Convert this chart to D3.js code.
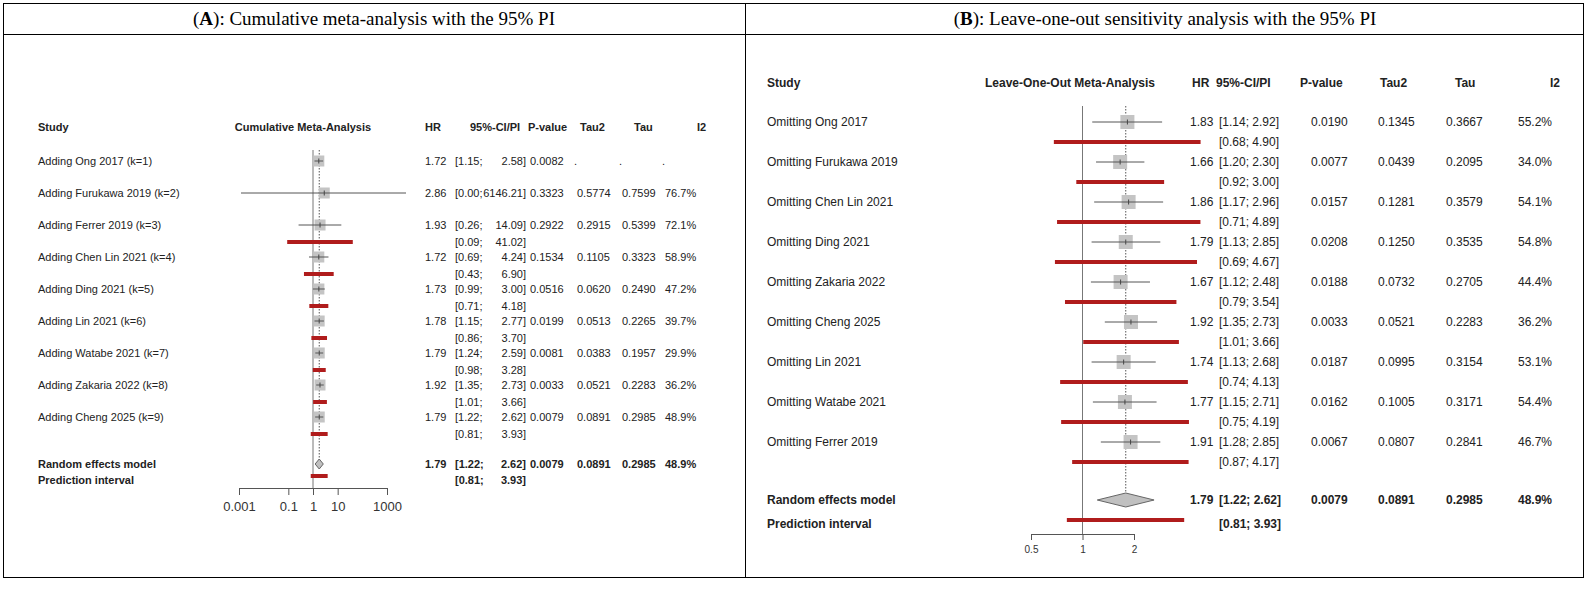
<!DOCTYPE html>
<html><head><meta charset="utf-8">
<script src="https://cdn.jsdelivr.net/npm/d3@7"></script>
<style>body{margin:0;background:#fff}text{font-family:"Liberation Sans",Arial,sans-serif}</style>
</head><body><div id="chart"></div>
<script>
// Panel A: cumulative
var studiesA = ["Adding Ong 2017 (k=1)","Adding Furukawa 2019 (k=2)","Adding Ferrer 2019 (k=3)","Adding Chen Lin 2021 (k=4)","Adding Ding 2021 (k=5)","Adding Lin 2021 (k=6)","Adding Watabe 2021 (k=7)","Adding Zakaria 2022 (k=8)","Adding Cheng 2025 (k=9)"];
var hrA = [1.72,2.86,1.93,1.72,1.73,1.78,1.79,1.92,1.79];
var loA = [1.15,0.00,0.26,0.69,0.99,1.15,1.24,1.35,1.22];
var hiA = [2.58,6146.21,14.09,4.24,3.00,2.77,2.59,2.73,2.62];
var piLoA = [null,null,0.09,0.43,0.71,0.86,0.98,1.01,0.81];
var piHiA = [null,null,41.02,6.90,4.18,3.70,3.28,3.66,3.93];
var pA = ["0.0082","0.3323","0.2922","0.1534","0.0516","0.0199","0.0081","0.0033","0.0079"];
var tau2A = [".","0.5774","0.2915","0.1105","0.0620","0.0513","0.0383","0.0521","0.0891"];
var tauA = [".","0.7599","0.5399","0.3323","0.2490","0.2265","0.1957","0.2283","0.2985"];
var i2A = [".","76.7%","72.1%","58.9%","47.2%","39.7%","29.9%","36.2%","48.9%"];
var ticksA = [0.001,0.1,1,10,1000];

// Panel B: leave-one-out
var studiesB = ["Omitting Ong 2017","Omitting Furukawa 2019","Omitting Chen Lin 2021","Omitting Ding 2021","Omitting Zakaria 2022","Omitting Cheng 2025","Omitting Lin 2021","Omitting Watabe 2021","Omitting Ferrer 2019"];
var hrB = [1.83,1.66,1.86,1.79,1.67,1.92,1.74,1.77,1.91];
var loB = [1.14,1.20,1.17,1.13,1.12,1.35,1.13,1.15,1.28];
var hiB = [2.92,2.30,2.96,2.85,2.48,2.73,2.68,2.71,2.85];
var piLoB = [0.68,0.92,0.71,0.69,0.79,1.01,0.74,0.75,0.87];
var piHiB = [4.90,3.00,4.89,4.67,3.54,3.66,4.13,4.19,4.17];
var pB = ["0.0190","0.0077","0.0157","0.0208","0.0188","0.0033","0.0187","0.0162","0.0067"];
var tau2B = ["0.1345","0.0439","0.1281","0.1250","0.0732","0.0521","0.0995","0.1005","0.0807"];
var tauB = ["0.3667","0.2095","0.3579","0.3535","0.2705","0.2283","0.3154","0.3171","0.2841"];
var i2B = ["55.2%","34.0%","54.1%","54.8%","44.4%","36.2%","53.1%","54.4%","46.7%"];
var ticksB = [0.5,1,2];

// pooled random effects model
var pooled = {hr:1.79, lo:1.22, hi:2.62, piLo:0.81, piHi:3.93, p:"0.0079", tau2:"0.0891", tau:"0.2985", i2:"48.9%"};

var W = 1587, H = 593;
var svg = d3.select("#chart").append("svg").attr("width", W).attr("height", H);
var f2 = d3.format(".2f");
var red = "#b01c1c", sq = "#c4c4c4";

// frame
svg.append("rect").attr("x",3.5).attr("y",3.5).attr("width",1580).attr("height",574).attr("fill","none").attr("stroke","#000");
svg.append("line").attr("x1",3).attr("x2",1584).attr("y1",34.5).attr("y2",34.5).attr("stroke","#000");
svg.append("line").attr("x1",745.5).attr("x2",745.5).attr("y1",3).attr("y2",578).attr("stroke","#000");
[["A","): Cumulative meta-analysis with the 95% PI",374],["B","): Leave-one-out sensitivity analysis with the 95% PI",1165]].forEach(function(t){
  var tx = svg.append("text").attr("x",t[2]).attr("y",25).attr("text-anchor","middle")
    .style("font-family","'Liberation Serif',serif").style("font-size","19px");
  tx.append("tspan").text("(");
  tx.append("tspan").style("font-weight","bold").text(t[0]);
  tx.append("tspan").text(t[1]);
});

function panel(o){
  var g = svg.append("g");
  var x = d3.scaleLog().domain(o.dom).range(o.rng);
  var cx = function(v){ return Math.max(o.rng[0]+2, Math.min(o.clipR, x(Math.max(v,1e-9)))); };
  var fs = o.fs + "px";
  function txt(xx, yy, s, anchor, bold){
    return g.append("text").attr("x",xx).attr("y",yy).attr("text-anchor",anchor||"start")
      .style("font-size",fs).style("font-weight",bold?"bold":"normal").attr("fill","#222").text(s);
  }
  function ci(yy, lo, hi, bold){
    if (o.split) {
      txt(o.col.ci, yy, "[" + f2(lo) + ";", "start", bold);
      txt(o.col.ciR, yy, f2(hi) + "]", "end", bold);
    } else {
      txt(o.col.ci, yy, "[" + f2(lo) + "; " + f2(hi) + "]", "start", bold);
    }
  }
  // headers
  var h = o.head;
  txt(o.col.study, h, "Study", "start", true);
  txt(o.col.plot, h, o.title, "middle", true);
  txt(o.col.hrh, h, "HR", "start", true);
  txt(o.col.cih, h, "95%-CI/PI", "start", true);
  txt(o.col.ph, h, "P-value", "start", true);
  txt(o.col.tau2h, h, "Tau2", "start", true);
  txt(o.col.tauh, h, "Tau", "start", true);
  txt(o.col.i2h, h, "I2", "start", true);

  // reference lines
  g.append("line").attr("x1",x(1)).attr("x2",x(1)).attr("y1",o.top).attr("y2",o.axisY).attr("stroke","#777");
  g.append("line").attr("x1",x(pooled.hr)).attr("x2",x(pooled.hr)).attr("y1",o.top).attr("y2",o.poolY).attr("stroke","#555").attr("stroke-dasharray","1.5,1.5");

  o.study.forEach(function(s,i){
    var y = o.y0 + i*o.dy;
    txt(o.col.study, y+4, s);
    txt(o.col.hr, y+4, f2(o.hr[i]));
    ci(y+4, o.lo[i], o.hi[i]);
    txt(o.col.p, y+4, o.p[i]);
    txt(o.col.tau2, y+4, o.tau2[i], o.dotAnchor(o.tau2[i]));
    txt(o.col.tau, y+4, o.tau[i], o.dotAnchor(o.tau[i]));
    txt(o.col.i2, y+4, o.i2[i], o.dotAnchor(o.i2[i]));
    g.append("rect").attr("x",x(o.hr[i])-o.sq/2).attr("y",y-o.sq/2).attr("width",o.sq).attr("height",o.sq).attr("fill",sq);
    g.append("line").attr("x1",cx(o.lo[i])).attr("x2",cx(o.hi[i])).attr("y1",y).attr("y2",y).attr("stroke","#555").attr("stroke-width",1);
    g.append("line").attr("x1",x(o.hr[i])).attr("x2",x(o.hr[i])).attr("y1",y-2.5).attr("y2",y+2.5).attr("stroke","#444");
    if (o.piLo[i] != null) {
      var yp = y + o.piOff;
      g.append("rect").attr("x",x(o.piLo[i])).attr("y",yp-2).attr("width",x(o.piHi[i])-x(o.piLo[i])).attr("height",4).attr("fill",red);
      ci(yp+4, o.piLo[i], o.piHi[i]);
    }
  });
  // pooled
  var yP = o.poolY;
  txt(o.col.study, yP+4, "Random effects model", "start", true);
  txt(o.col.study, yP+4+o.piGap, "Prediction interval", "start", true);
  txt(o.col.hr, yP+4, f2(pooled.hr), "start", true);
  ci(yP+4, pooled.lo, pooled.hi, true);
  ci(yP+4+o.piGap, pooled.piLo, pooled.piHi, true);
  txt(o.col.p, yP+4, pooled.p, "start", true);
  txt(o.col.tau2, yP+4, pooled.tau2, "start", true);
  txt(o.col.tau, yP+4, pooled.tau, "start", true);
  txt(o.col.i2, yP+4, pooled.i2, "start", true);
  var dh = o.dh;
  g.append("path").attr("d","M"+x(pooled.lo)+","+yP+"L"+x(pooled.hr)+","+(yP-dh)+"L"+x(pooled.hi)+","+yP+"L"+x(pooled.hr)+","+(yP+dh)+"Z")
    .attr("fill","#c0c0c0").attr("stroke","#666");
  g.append("rect").attr("x",x(pooled.piLo)).attr("y",yP+o.piGap-6).attr("width",x(pooled.piHi)-x(pooled.piLo)).attr("height",4).attr("fill",red);

  // axis
  var ax = g.append("g").attr("transform","translate(0,"+o.axisY+")")
    .call(d3.axisBottom(x).tickValues(o.ticks).tickFormat(function(d){ return String(d); }).tickSizeOuter(0).tickSize(o.tickSize));
  ax.select(".domain").attr("stroke","#555");
  ax.selectAll("line").attr("stroke","#555");
  ax.selectAll("text").style("font-size",o.tickFs+"px").attr("fill","#333").attr("dy","1em");
}

panel({
  dom:[0.001,1000], rng:[239,387], clipR:406, fs:11, tickFs:13, tickSize:7, split:true,
  title:"Cumulative Meta-Analysis", head:131, top:150, y0:161, dy:32, sq:11, piOff:17, piGap:16,
  poolY:464, axisY:488, dh:5, ticks:ticksA,
  study:studiesA, hr:hrA, lo:loA, hi:hiA, piLo:piLoA, piHi:piHiA, p:pA, tau2:tau2A, tau:tauA, i2:i2A,
  dotAnchor:function(s){ return s==="." ? "end" : "start"; },
  col:{study:38, plot:303, hr:425, hrh:425, ci:455, cih:470, ciR:526, p:530, ph:528, tau2:577, tau:622, i2:665, tau2h:580, tauh:634, i2h:697}
});
panel({
  dom:[0.5,2], rng:[1031,1134], clipR:1210, fs:12, tickFs:10, tickSize:6, split:false,
  title:"Leave-One-Out Meta-Analysis", head:87, top:106, y0:122, dy:40, sq:14, piOff:20, piGap:24,
  poolY:500, axisY:534, dh:7, ticks:ticksB,
  study:studiesB, hr:hrB, lo:loB, hi:hiB, piLo:piLoB, piHi:piHiB, p:pB, tau2:tau2B, tau:tauB, i2:i2B,
  dotAnchor:function(){ return "start"; },
  col:{study:767, plot:1070, hr:1190, hrh:1192, ci:1219, cih:1216, ciR:1292, p:1311, ph:1300, tau2:1378, tau:1446, i2:1518, tau2h:1380, tauh:1455, i2h:1550}
});
</script></body></html>
